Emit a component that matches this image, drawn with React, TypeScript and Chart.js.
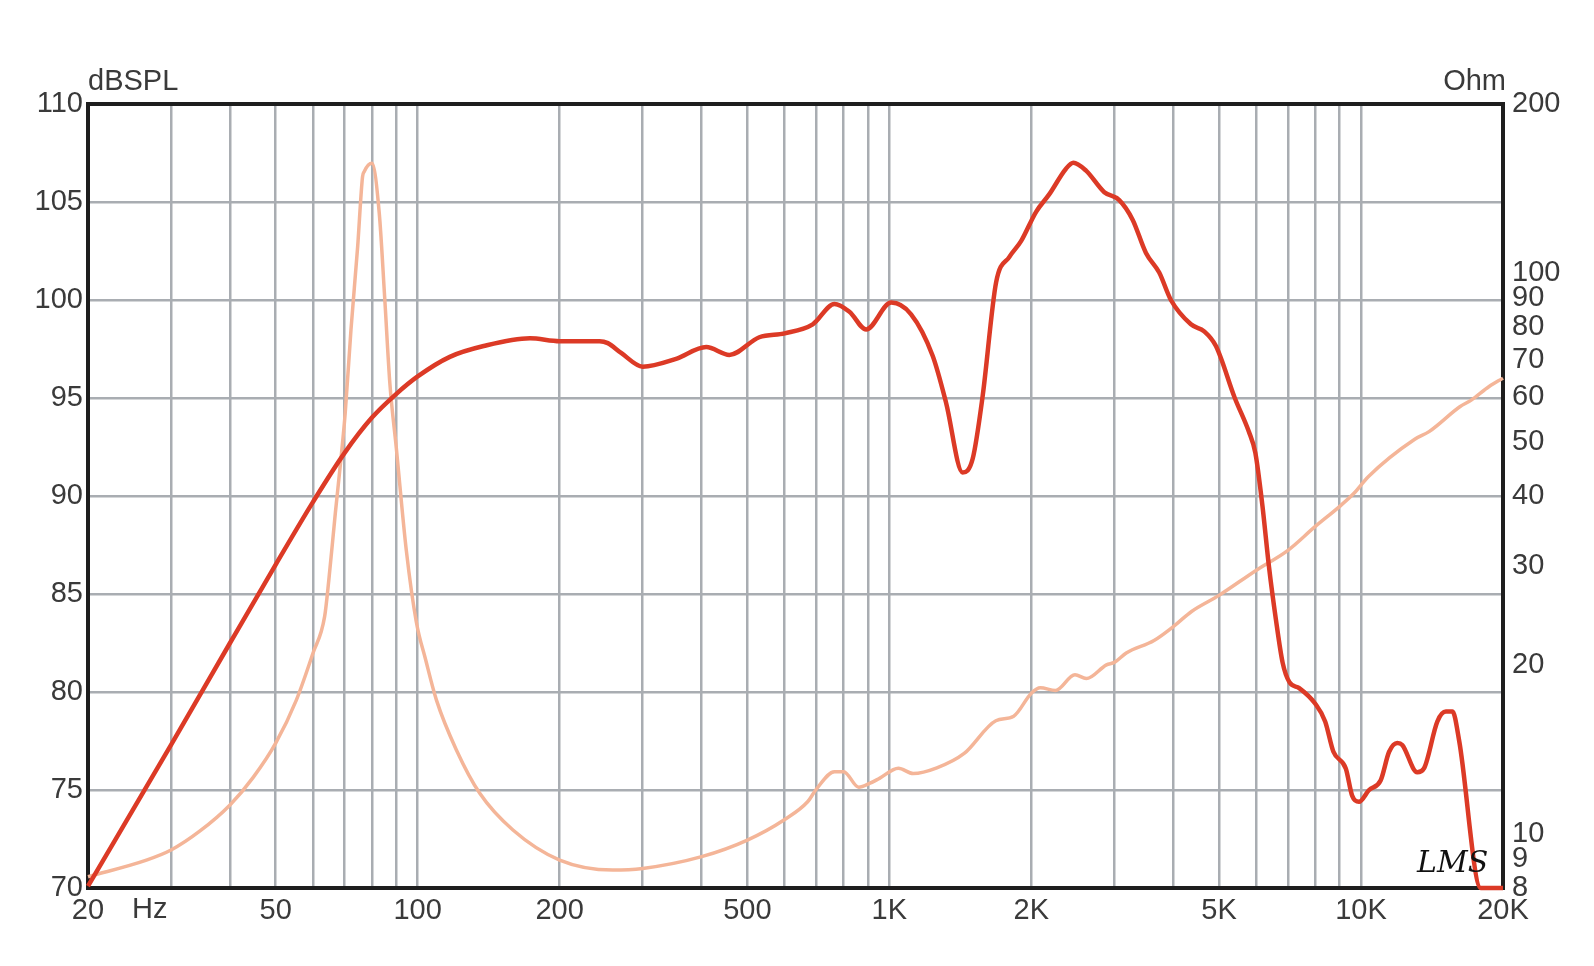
import React, { useEffect, useRef } from "react";
import { Chart, registerables } from "chart.js";

Chart.register(...registerables);

// Sound pressure level (dBSPL) vs frequency (Hz)
const splFreq = [20, 30, 40, 50, 60, 70, 80, 90, 100, 117, 138, 173, 200, 243, 253, 270, 300, 353, 409, 458, 530, 600, 688, 765, 823, 893, 1009, 1112, 1236, 1319, 1430, 1502, 1577, 1684, 1797, 1902, 2047, 2184, 2369, 2455, 2612, 2856, 3072, 3279, 3500, 3734, 3953, 4359, 4651, 4925, 5400, 5780, 5970, 6180, 6380, 6600, 6820, 7050, 7394, 8000, 8394, 8740, 9283, 9580, 9900, 10400, 11010, 11470, 11940, 12230, 13160, 13600, 14520, 15130, 15630, 16150, 17940, 20000];
const splDb = [70.1, 77.3, 82.5, 86.5, 89.7, 92.2, 94.0, 95.2, 96.1, 97.1, 97.65, 98.05, 97.9, 97.9, 97.8, 97.3, 96.6, 97.0, 97.6, 97.2, 98.1, 98.3, 98.76, 99.8, 99.4, 98.5, 99.87, 99.27, 97.14, 94.76, 91.2, 91.9, 95.1, 100.9, 102.2, 103.0, 104.5, 105.4, 106.7, 107.0, 106.6, 105.5, 105.1, 104.1, 102.4, 101.4, 100.0, 98.76, 98.4, 97.65, 95.0, 93.3, 92.2, 89.5, 86.4, 83.7, 81.5, 80.5, 80.2, 79.4, 78.5, 76.95, 76.1, 74.7, 74.4, 75.0, 75.5, 76.95, 77.4, 77.3, 75.9, 76.1, 78.5, 79.0, 79.0, 77.5, 70, 70];

// Impedance (Ohm) vs frequency (Hz)
const impFreq = [20, 26.6, 30, 34.5, 40, 44.8, 50, 55.3, 60, 63.5, 64.8, 66.9, 68.6, 70.2, 72.2, 74.6, 76.4, 77, 80, 82.9, 85.1, 87.3, 90.1, 94.6, 99.3, 104, 109.6, 120.8, 135.4, 159.2, 200, 259, 300, 400, 500, 600, 671, 700, 765, 800, 861, 910, 953, 1045, 1123, 1261, 1441, 1682, 1835, 2000, 2090, 2250, 2475, 2616, 2886, 3000, 3179, 3640, 4000, 4373, 5000, 6000, 7000, 8000, 9000, 9650, 10360, 13000, 13940, 16200, 17130, 18690, 20000];
const impOhm = [8.38, 8.97, 9.35, 10.1, 11.25, 12.6, 14.5, 17.3, 21.0, 24.4, 28.3, 37.3, 45.7, 56.2, 79.1, 111.3, 148.4, 151.5, 156.8, 127.7, 90.7, 63.5, 48.7, 32.0, 23.9, 20.4, 17.3, 14.1, 11.8, 10.15, 8.97, 8.61, 8.67, 9.1, 9.74, 10.6, 11.4, 12.0, 12.9, 12.9, 12.1, 12.3, 12.55, 13.08, 12.8, 13.1, 13.9, 15.9, 16.2, 17.8, 18.2, 18.0, 19.2, 18.9, 20.0, 20.2, 21.0, 22.1, 23.4, 24.9, 26.6, 29.5, 32.0, 35.3, 38.3, 40.4, 43.3, 50.5, 52.1, 57.7, 59.3, 62.7, 64.9];

// Axes
const xGridTicks = [20, 30, 40, 50, 60, 70, 80, 90, 100, 200, 300, 400, 500, 600, 700, 800, 900, 1000, 2000, 3000, 4000, 5000, 6000, 7000, 8000, 9000, 10000, 20000];
const xLabelValues = [20, 50, 100, 200, 500, 1000, 2000, 5000, 10000, 20000];
const xLabelTexts = ["20", "50", "100", "200", "500", "1K", "2K", "5K", "10K", "20K"];
const ohmTicks = [8, 9, 10, 20, 30, 40, 50, 60, 70, 80, 90, 100, 200];

const FONT = "'Liberation Sans', Arial, sans-serif";
const FONT_SIZE = 29;
const TEXT_COLOR = "#3a3a3a";
const GRID_COLOR = "#a9adb2";

export default function App() {
  const ref = useRef<HTMLCanvasElement | null>(null);

  useEffect(() => {
    document.body.style.margin = "0";
    const canvas = ref.current;
    if (!canvas) return;

    const framePlugin = {
      id: "frame",
      beforeDatasetsDraw(chart: any) {
        const { ctx, chartArea } = chart;
        ctx.save();
        ctx.strokeStyle = "#1e1e1e";
        ctx.lineWidth = 4;
        ctx.strokeRect(chartArea.left, chartArea.top, chartArea.right - chartArea.left, chartArea.bottom - chartArea.top);
        ctx.restore();
      },
      afterDraw(chart: any) {
        const { ctx, chartArea } = chart;
        ctx.save();
        ctx.fillStyle = TEXT_COLOR;
        ctx.font = `${FONT_SIZE}px ${FONT}`;
        ctx.textBaseline = "alphabetic";
        ctx.textAlign = "left";
        ctx.fillText("dBSPL", chartArea.left, chartArea.top - 14);
        ctx.textAlign = "right";
        ctx.fillText("Ohm", chartArea.right + 3, chartArea.top - 14);
        ctx.textAlign = "left";
        ctx.textBaseline = "top";
        ctx.fillText("Hz", chartArea.left + 44, chartArea.bottom + 7);
        ctx.font = `italic 30px 'DejaVu Serif', serif`;
        ctx.fillStyle = "#111";
        ctx.textBaseline = "alphabetic";
        ctx.fillText("LMS", chartArea.right - 86, chartArea.bottom - 16);
        ctx.restore();
      },
    };

    const chart = new Chart(canvas, {
      type: "line",
      data: {
        datasets: [
          {
            label: "SPL",
            data: splFreq.map((f, i) => ({ x: f, y: splDb[i] })),
            borderColor: "#dc3a26",
            borderWidth: 4.5,
            pointRadius: 0,
            cubicInterpolationMode: "monotone",
            yAxisID: "y",
            clip: 8,
            order: 1,
          },
          {
            label: "Impedance",
            data: impFreq.map((f, i) => ({ x: f, y: impOhm[i] })),
            borderColor: "#f4b598",
            borderWidth: 3.5,
            pointRadius: 0,
            cubicInterpolationMode: "monotone",
            yAxisID: "y1",
            clip: 8,
            order: 2,
          },
        ],
      },
      options: {
        responsive: false,
        animation: false,
        events: [],
        layout: { padding: { top: 104, left: 0, right: 0, bottom: 0 } },
        plugins: { legend: { display: false }, tooltip: { enabled: false } },
        scales: {
          x: {
            type: "logarithmic",
            min: 20,
            max: 20000,
            border: { display: false },
            grid: { color: GRID_COLOR, lineWidth: 2.5, drawTicks: false },
            afterBuildTicks: (scale: any) => {
              scale.ticks = xGridTicks.map((v) => ({ value: v }));
            },
            afterFit: (scale: any) => {
              scale.height = 78;
            },
            ticks: {
              autoSkip: false,
              maxRotation: 0,
              padding: 6,
              color: TEXT_COLOR,
              font: { family: FONT, size: FONT_SIZE },
              callback: (value: any) => {
                const idx = xLabelValues.indexOf(Number(value));
                return idx >= 0 ? xLabelTexts[idx] : "";
              },
            },
          },
          y: {
            type: "linear",
            position: "left",
            min: 70,
            max: 110,
            border: { display: false },
            grid: { color: GRID_COLOR, lineWidth: 2.5, drawTicks: false },
            afterFit: (scale: any) => {
              scale.width = 88;
            },
            ticks: {
              stepSize: 5,
              padding: 5,
              color: TEXT_COLOR,
              font: { family: FONT, size: FONT_SIZE },
            },
          },
          y1: {
            type: "logarithmic",
            position: "right",
            min: 8,
            max: 200,
            border: { display: false },
            grid: { display: false, drawTicks: false },
            afterBuildTicks: (scale: any) => {
              scale.ticks = ohmTicks.map((v) => ({ value: v }));
            },
            afterFit: (scale: any) => {
              scale.width = 91;
            },
            ticks: {
              autoSkip: false,
              padding: 9,
              color: TEXT_COLOR,
              font: { family: FONT, size: FONT_SIZE },
              callback: (value: any) => String(value),
            },
          },
        },
      },
      plugins: [framePlugin],
    } as any);

    return () => chart.destroy();
  }, []);

  return (
    <div style={{ width: 1594, height: 966, background: "#fff" }}>
      <canvas ref={ref} width={1594} height={966} style={{ display: "block", width: 1594, height: 966 }} />
    </div>
  );
}
